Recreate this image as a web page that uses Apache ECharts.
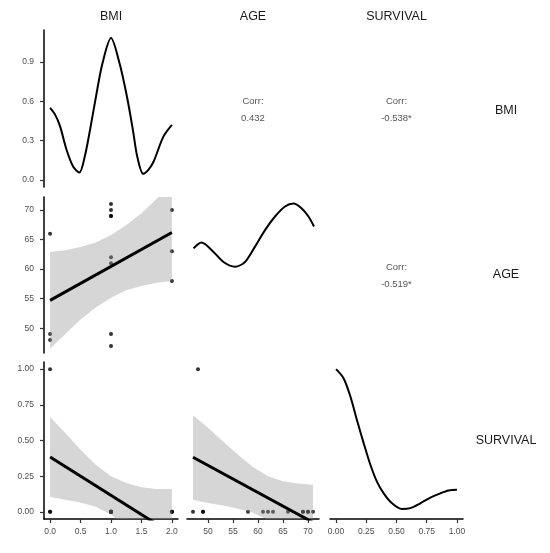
<!DOCTYPE html>
<html>
<head>
<meta charset="utf-8">
<script src="https://cdn.jsdelivr.net/npm/echarts@6/dist/echarts.min.js"></script>
<style>
  html, body { margin: 0; padding: 0; background: #fff; }
  #chart { width: 550px; height: 553px; }
</style>
</head>
<body>
<div id="chart"></div>
<script>
const bmi = [0, 0, 0, 1, 1, 1, 1, 1, 1, 1, 1, 2, 2, 2];
const age = [66, 49, 48, 71, 70, 69, 69, 62, 61, 49, 47, 70, 63, 58];
const survival = [0, 0, 1, 0, 0, 0, 0, 0, 0, 0, 0, 0, 0, 0];

const varNames = ['BMI', 'AGE', 'SURVIVAL'];
const corrLabels = ['0.432', '-0.538*', '-0.519*'];

// tick labels
const bmiTicks = [0, 0.5, 1, 1.5, 2];
const ageTicks = [50, 55, 60, 65, 70];
const survTicks = [0, 0.25, 0.5, 0.75, 1];
const densTicks = [0, 0.3, 0.6, 0.9];

// diagonal densities
const bmiDensX = [0, 0.08, 0.163, 0.27, 0.38, 0.48, 0.57, 0.655, 0.755, 0.86, 1.0, 1.14, 1.26, 1.36, 1.43, 1.53, 1.62, 1.70, 1.86, 2.0];
const bmiDensY = [0.55, 0.50, 0.41, 0.23, 0.10, 0.056, 0.18, 0.38, 0.64, 0.89, 1.083, 0.89, 0.64, 0.38, 0.18, 0.046, 0.08, 0.14, 0.33, 0.42];
const ageDensX = [47.1, 48.7, 51.1, 53.1, 55.4, 57.4, 59.4, 61.4, 63.4, 65.4, 67.1, 68.7, 70.1, 71.2];
const ageDensY = [63.5, 64.5, 62.9, 61.2, 60.4, 61.2, 63.8, 66.6, 68.9, 70.6, 71.1, 70.3, 68.9, 67.2];
const survDensX = [0, 0.063, 0.118, 0.174, 0.229, 0.284, 0.339, 0.394, 0.463, 0.545, 0.614, 0.697, 0.78, 0.862, 0.931, 1.0];
const survDensY = [1.0, 0.935, 0.81, 0.64, 0.48, 0.33, 0.21, 0.13, 0.06, 0.02, 0.026, 0.06, 0.10, 0.13, 0.15, 0.155];

// linear fits and their confidence bands
const bandBmiX = [0, 0.25, 0.5, 0.75, 1, 1.25, 1.5, 1.75, 2];
const fitBmiAge = [54.7, 66.2];
const bandBmiAgeUp = [62.9, 63.2, 63.75, 64.5, 65.75, 67.4, 69.45, 71.9, 74.4];
const bandBmiAgeLo = [46.5, 49.0, 51.45, 53.5, 55.15, 56.4, 57.15, 57.7, 58.0];
const fitBmiSurv = [0.385, -0.153];
const bandBmiSurvUp = [0.664, 0.552, 0.436, 0.33, 0.25, 0.203, 0.172, 0.16, 0.16];
const bandBmiSurvLo = [0.105, 0.084, 0.065, 0.036, -0.018, -0.105, -0.21, -0.33, -0.466];
const bandAgeX = [47, 50, 53, 56, 59, 62, 65, 68, 71];
const fitAgeSurv = [0.383, -0.074];
const bandAgeSurvUp = [0.677, 0.59, 0.493, 0.40, 0.315, 0.25, 0.215, 0.198, 0.19];
const bandAgeSurvLo = [0.085, 0.062, 0.045, 0.022, -0.007, -0.056, -0.135, -0.232, -0.338];

// panel layout (pixels)
const COLS = [{ left: 44, width: 134 }, { left: 187, width: 132 }, { left: 330, width: 133 }];
const ROWS = [{ top: 30, height: 157 }, { top: 197, height: 156 }, { top: 362, height: 157 }];
const colRange = [[-0.1, 2.1], [45.8, 72.2], [-0.05, 1.05]];
const rowRange = [[-0.0545, 1.1445], [45.8, 72.2], [-0.05, 1.05]];
const colTicks = [bmiTicks, ageTicks, survTicks];
const rowTicks = [densTicks, ageTicks, survTicks];
const colDigits = [1, 0, 2];
const rowDigits = [1, 0, 2];

const FONT = "'Liberation Sans', Arial, Helvetica, sans-serif";

// lower-triangle + diagonal panels [row, col]
const panels = [[0, 0], [1, 0], [1, 1], [2, 0], [2, 1], [2, 2]];

const grids = [], xAxes = [], yAxes = [];
panels.forEach(function (p) {
    const r = p[0], c = p[1];
    grids.push({ left: COLS[c].left, width: COLS[c].width, top: ROWS[r].top, height: ROWS[r].height });
    const showX = r === 2;
    const showY = c === 0;
    xAxes.push(axisCfg(grids.length - 1, colRange[c], showX, colTicks[c], colDigits[c], 'bottom'));
    yAxes.push(axisCfg(grids.length - 1, rowRange[r], showY, rowTicks[r], rowDigits[r], 'left'));
});

function axisCfg(gridIndex, range, show, ticks, digits, position) {
    return {
        type: 'value', gridIndex: gridIndex, position: position,
        min: range[0], max: range[1], show: show,
        axisLine: { show: true, onZero: false, lineStyle: { color: '#000', width: 1.5 } },
        axisTick: { show: true, length: 4, customValues: ticks, lineStyle: { color: '#333', width: 1.2 } },
        axisLabel: {
            customValues: ticks, margin: position === 'left' ? 10 : 8,
            fontFamily: FONT, fontSize: 8.5, color: '#4d4d4d',
            formatter: function (v) { return v.toFixed(digits); }
        },
        splitLine: { show: false }
    };
}

function pairs(xs, ys) {
    return xs.map(function (x, i) { return [x, ys[i]]; });
}

function gridOf(r, c) {
    for (let i = 0; i < panels.length; i++) {
        if (panels[i][0] === r && panels[i][1] === c) return i;
    }
}

function densitySeries(g, xs, ys) {
    return {
        type: 'line', xAxisIndex: g, yAxisIndex: g, data: pairs(xs, ys),
        smooth: 0.3, symbol: 'none', z: 4,
        lineStyle: { color: '#000', width: 2 }
    };
}

function scatterSeries(g, xs, ys) {
    return {
        type: 'scatter', xAxisIndex: g, yAxisIndex: g, data: pairs(xs, ys),
        symbolSize: 4, itemStyle: { color: '#000' }, z: 2
    };
}

function bandSeries(g, xs, up, lo) {
    return {
        type: 'custom', xAxisIndex: g, yAxisIndex: g, clip: true, silent: true, z: 3,
        data: [[xs[0], lo[0]]],
        renderItem: function (params, api) {
            const pts = [];
            for (let i = 0; i < xs.length; i++) pts.push(api.coord([xs[i], up[i]]));
            for (let i = xs.length - 1; i >= 0; i--) pts.push(api.coord([xs[i], lo[i]]));
            const cs = params.coordSys;
            return {
                type: 'polygon', shape: { points: pts },
                clipPath: { type: 'rect', shape: { x: cs.x, y: cs.y, width: cs.width, height: cs.height } },
                style: { fill: 'rgba(153,153,153,0.4)' }
            };
        }
    };
}

function fitSeries(g, xEnds, yEnds) {
    return {
        type: 'line', xAxisIndex: g, yAxisIndex: g, data: pairs(xEnds, yEnds),
        symbol: 'none', clip: true, z: 4,
        lineStyle: { color: '#000', width: 3 }
    };
}

const series = [
    densitySeries(gridOf(0, 0), bmiDensX, bmiDensY),
    scatterSeries(gridOf(1, 0), bmi, age),
    bandSeries(gridOf(1, 0), bandBmiX, bandBmiAgeUp, bandBmiAgeLo),
    fitSeries(gridOf(1, 0), [0, 2], fitBmiAge),
    densitySeries(gridOf(1, 1), ageDensX, ageDensY),
    scatterSeries(gridOf(2, 0), bmi, survival),
    bandSeries(gridOf(2, 0), bandBmiX, bandBmiSurvUp, bandBmiSurvLo),
    fitSeries(gridOf(2, 0), [0, 2], fitBmiSurv),
    scatterSeries(gridOf(2, 1), age, survival),
    bandSeries(gridOf(2, 1), bandAgeX, bandAgeSurvUp, bandAgeSurvLo),
    fitSeries(gridOf(2, 1), [47, 71], fitAgeSurv),
    densitySeries(gridOf(2, 2), survDensX, survDensY)
];

// strip labels and correlation texts
const graphic = [];
varNames.forEach(function (name, i) {
    graphic.push({
        type: 'text', x: COLS[i].left + COLS[i].width / 2, y: 17,
        style: { text: name, fontFamily: FONT, fontSize: 12.5, fill: '#1a1a1a', align: 'center', verticalAlign: 'middle' }
    });
    graphic.push({
        type: 'text', x: 506, y: ROWS[i].top + ROWS[i].height / 2 + (i === 0 ? 2 : 0),
        style: { text: name, fontFamily: FONT, fontSize: 12.5, fill: '#1a1a1a', align: 'center', verticalAlign: 'middle' }
    });
});
const corrCells = [[0, 1], [0, 2], [1, 2]];
corrCells.forEach(function (cell, i) {
    const r = cell[0], c = cell[1];
    graphic.push({
        type: 'text', x: COLS[c].left + COLS[c].width / 2, y: ROWS[r].top + ROWS[r].height / 2 + 1,
        style: {
            text: 'Corr:\n' + corrLabels[i], fontFamily: FONT, fontSize: 9.5, fill: '#555',
            align: 'center', verticalAlign: 'middle', lineHeight: 17
        }
    });
});

const option = {
    backgroundColor: '#fff',
    animation: false,
    grid: grids,
    xAxis: xAxes,
    yAxis: yAxes,
    series: series,
    graphic: graphic
};

const myChart = echarts.init(document.getElementById('chart'));
myChart.setOption(option);
</script>
</body>
</html>
